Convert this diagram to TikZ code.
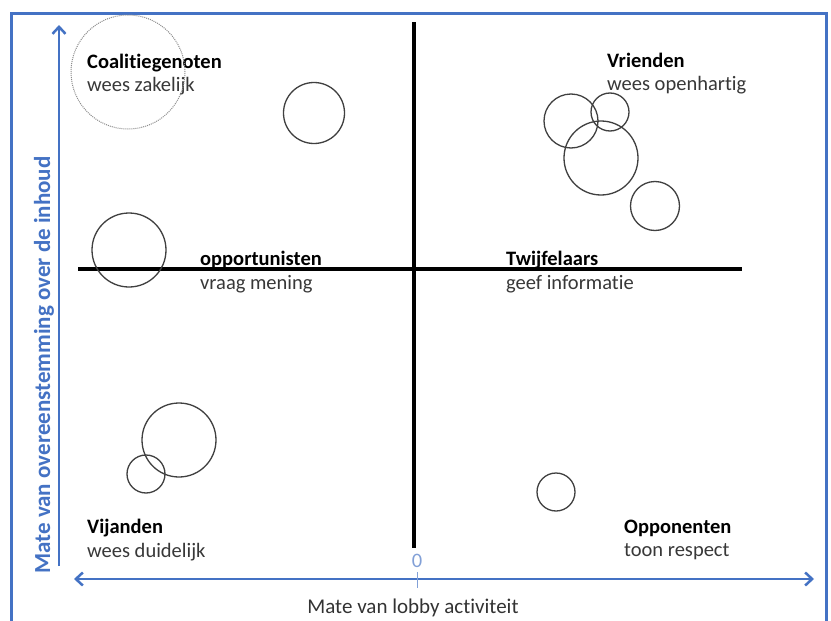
\documentclass[tikz,border=0pt]{standalone}
\usepackage{fontspec}
\setmainfont{Carlito}[Ligatures=NoCommon]
\usepackage{xcolor}
\usepackage{tikz}
\usetikzlibrary{arrows.meta}

\definecolor{lobbyblue}{RGB}{68,114,196}
\definecolor{tickblue}{RGB}{130,160,215}

\begin{document}
\begin{tikzpicture}[
    x=1pt, y=-1pt,
    stake/.style={circle, draw=black!75, line width=1.3pt, inner sep=0pt, minimum size=#1},
    ally/.style={circle, draw=black!45, densely dotted, line width=1pt, inner sep=0pt, minimum size=#1},
    grouptitle/.style={anchor=base west, inner sep=0pt, font=\fontsize{20.5}{22}\selectfont\bfseries},
    grouphint/.style={anchor=base west, inner sep=0pt, font=\fontsize{20.5}{22}\selectfont, text=black!78},
    quad/.style={line width=4pt},
    gauge/.style={draw=lobbyblue, line width=2.5pt},
]
\useasboundingbox (0,0) rectangle (831,621);
\fill[white] (0,0) rectangle (831,621);

% outer frame, open at the bottom
\draw[lobbyblue, line width=3pt] (11,625) -- (11,13) -- (826,13) -- (826,625);

% quadrant cross
\coordinate (qtop) at (414,22);
\coordinate (qbot) at (414,548);
\coordinate (qleft) at (78,269);
\coordinate (qright) at (742,269);
\draw[quad] (qtop) -- (qbot);
\draw[quad] (qleft) -- (qright);

% blue axes
\coordinate (ytop) at (59,25);
\coordinate (ybot) at (59,566);
\coordinate (xleft) at (74,579);
\coordinate (xright) at (814,579);
\draw[gauge, -{Straight Barb[length=7pt, width=13pt]}] (ybot) -- (ytop);
\draw[gauge, {Straight Barb[length=7pt, width=13pt]}-{Straight Barb[length=7pt, width=13pt]}] (xleft) -- (xright);
\coordinate (tickup) at (417,572);
\coordinate (tickdn) at (417,588);
\draw[tickblue, line width=1pt] (tickup) -- (tickdn);
\node[anchor=base, inner sep=0pt, text=tickblue, font=\fontsize{20.5}{22}\selectfont] (zero) at (417,567) {0};

\node[anchor=base, inner sep=0pt, text=black!80, font=\fontsize{21}{22}\selectfont] (xlabel) at (413,613) {Mate van lobby activiteit};
\node[rotate=90, anchor=base, inner sep=0pt, text=lobbyblue, font=\fontsize{23}{24}\selectfont\bfseries] (ylabel) at (50,365) {Mate van overeenstemming over de inhoud};

% groups
\node[grouptitle] (coal) at (87,68) {Coalitiegenoten};
\node[grouphint] (coalh) at (87,91) {wees zakelijk};
\node[grouptitle] (vri) at (607,67) {Vrienden};
\node[grouphint] (vrih) at (607,90) {wees openhartig};
\node[grouptitle] (opp) at (200,265) {opportunisten};
\node[grouphint] (opph) at (200,289) {vraag mening};
\node[grouptitle] (twi) at (506,265) {Twijfelaars};
\node[grouphint] (twih) at (506,289) {geef informatie};
\node[grouptitle] (vij) at (87,533) {Vijanden};
\node[grouphint] (vijh) at (87,557) {wees duidelijk};
\node[grouptitle] (opo) at (624,533) {Opponenten};
\node[grouphint] (opoh) at (624,556) {toon respect};

% stakeholders
\node[ally=114pt] (s0) at (128,72) {};
\node[stake=61pt] (s1) at (314,113) {};
\node[stake=54pt] (s2) at (571,121) {};
\node[stake=38pt] (s3) at (610,112) {};
\node[stake=74pt] (s4) at (601,158) {};
\node[stake=49pt] (s5) at (655,206) {};
\node[stake=74pt] (s6) at (129,250) {};
\node[stake=74pt] (s7) at (179,440) {};
\node[stake=38pt] (s8) at (146,474) {};
\node[stake=38pt] (s9) at (556,492) {};

\end{tikzpicture}
\end{document}
